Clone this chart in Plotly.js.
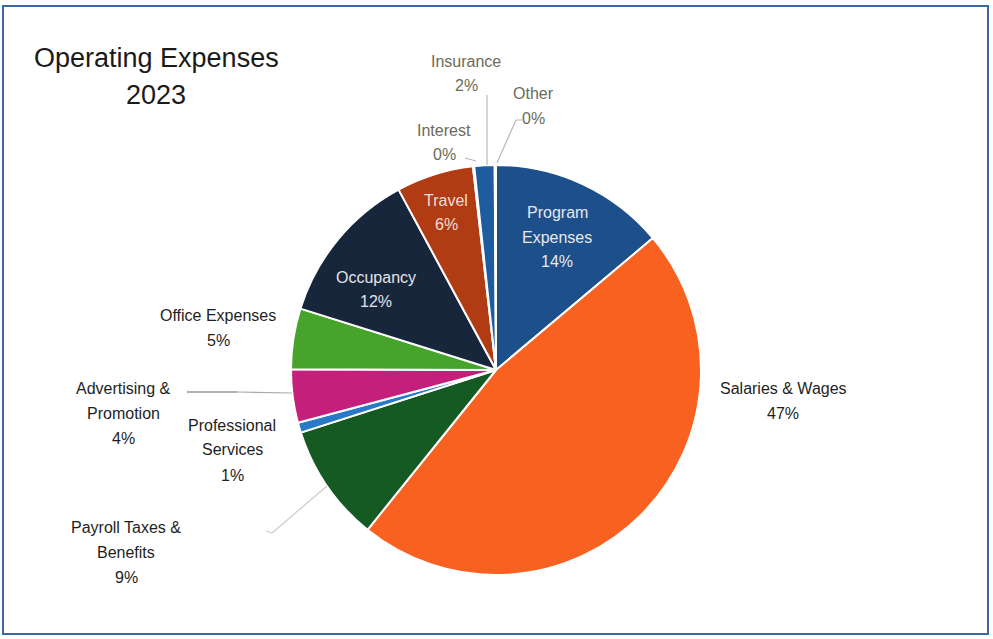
<!DOCTYPE html>
<html>
<head>
<meta charset="utf-8">
<script src="https://cdn.plot.ly/plotly-3.0.1.min.js"></script>
<style>html,body{margin:0;padding:0;background:#fff;}#chart{width:993px;height:639px;}</style>
</head>
<body>
<div id="chart"></div>
<script>
// ---- data ----
var categories = ["Program Expenses","Salaries & Wages","Payroll Taxes & Benefits","Professional Services","Advertising & Promotion","Office Expenses","Occupancy","Travel","Interest","Insurance","Other"];
var displayNames = ["Program<br>Expenses","Salaries & Wages","Payroll Taxes &<br>Benefits","Professional<br>Services","Advertising &<br>Promotion","Office Expenses","Occupancy","Travel","Interest","Insurance","Other"];
var values = [13.9, 47.0, 9.3, 0.8, 4.2, 4.8, 12.3, 6.1, 0.1, 1.6, 0.1];
var colors = ["#1d4f8b","#f8611f","#155a23","#2a79c6","#c4207b","#46a32b","#17263a","#b13c13","#d9b24a","#1f5c9e","#2b62a6"];
var chartTitle = ["Operating Expenses","2023"];

// ---- layout helpers (positions only) ----
var W = 993, H = 639;
function px(x){return x/W;}
function py(y){return 1-y/H;}
var labelPos = [[557,212],[783,388],[126,527],[232,425],[123,388],[218,315],[376,277],[446,200],[444,130],[466,61],[533,93]];
var labelColor = ["#e8e8ee","#1e1e1e","#1e1e1e","#1e1e1e","#1e1e1e","#1e1e1e","#e4e4ea","#eadfd8","#6b6b58","#6b6b58","#6b6b58"];
var lineGap = 25;

var total = values.reduce(function(a,b){return a+b;},0);
var annotations = [];
var FONT = "Liberation Sans, Arial, sans-serif";
categories.forEach(function(c,i){
  var lines = displayNames[i].split("<br>");
  lines.push(Math.round(values[i]/total*100) + "%");
  lines.forEach(function(t,k){
    annotations.push({
      text: t, xref:"paper", yref:"paper",
      x: px(labelPos[i][0]), y: py(labelPos[i][1] + k*lineGap),
      xanchor:"center", yanchor:"middle", showarrow:false,
      font:{family:FONT, size:16, color:labelColor[i]}
    });
  });
});
chartTitle.forEach(function(t,k){
  annotations.push({
    text:t, xref:"paper", yref:"paper",
    x: px(156), y: py(58 + k*37), xanchor:"center", yanchor:"middle", showarrow:false,
    font:{family:FONT, size:27, color:"#1a1a1a"}
  });
});

function seg(x0,y0,x1,y1,col,w){
  return {type:"line", xref:"paper", yref:"paper", x0:px(x0), y0:py(y0), x1:px(x1), y1:py(y1),
          line:{color:col, width:w||1}};
}
var shapes = [
  // frame
  {type:"rect", xref:"paper", yref:"paper", x0:px(3), y0:py(634), x1:px(988), y1:py(6),
   line:{color:"#3a68a6", width:2}, fillcolor:"rgba(0,0,0,0)"},
  // leader lines
  seg(487,95,487,165,"#b8b8b8",1.2),
  seg(522,120,516,120,"#b0b0b0",1),
  seg(516,120,497,163,"#b8b8b8",1.2),
  seg(465,158,476,161,"#b0b0b0",1),
  seg(187,392,237,392,"#666666",1.2),
  seg(237,392,292,393,"#aaaaaa",1.2),
  seg(266,531,272,533,"#cccccc",1.2),
  seg(272,533,327,486,"#cccccc",1.2)
];

var trace = {
  type:"pie",
  labels: categories,
  values: values,
  sort:false,
  direction:"clockwise",
  rotation:0,
  textinfo:"none",
  hoverinfo:"label+percent",
  marker:{colors:colors, line:{color:"#ffffff", width:2}},
  domain:{x:[px(291),px(701)], y:[py(575),py(165)]},
  showlegend:false
};

var layout = {
  width:W, height:H,
  margin:{l:0,r:0,t:0,b:0},
  paper_bgcolor:"#ffffff",
  showlegend:false,
  annotations:annotations,
  shapes:shapes
};
Plotly.newPlot("chart",[trace],layout,{displayModeBar:false,staticPlot:true});
</script>
</body>
</html>
